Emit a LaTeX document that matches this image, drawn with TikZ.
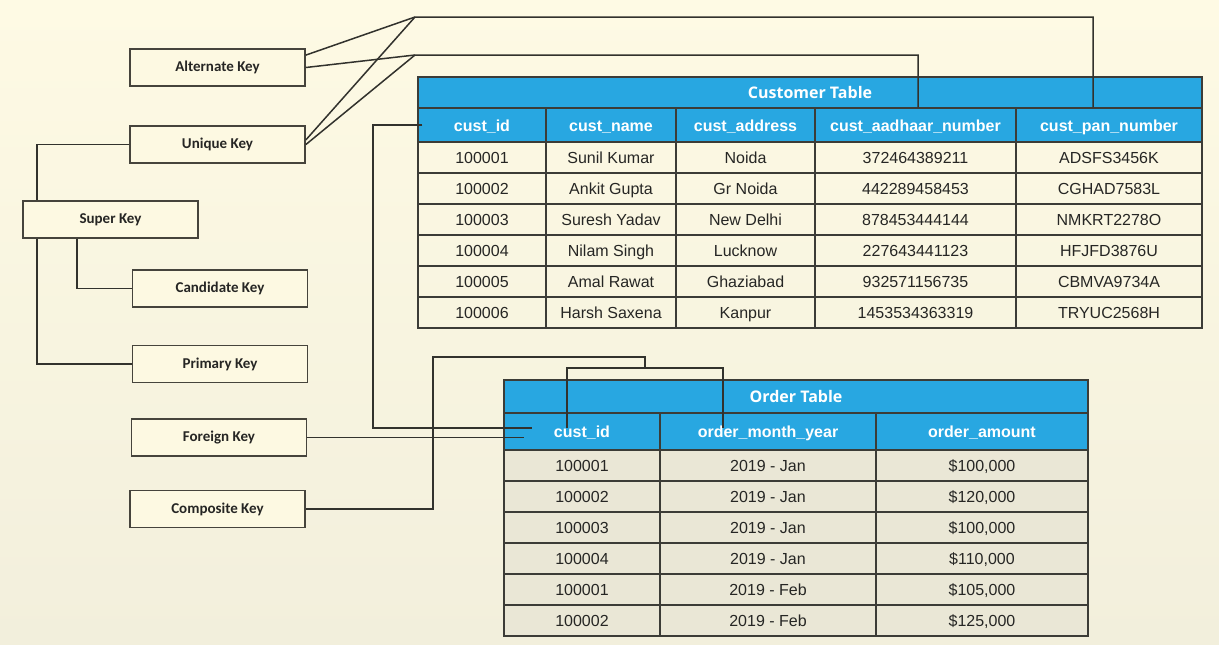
\documentclass[tikz,border=0pt]{standalone}
\usepackage{fontspec}
\setmainfont{Liberation Sans}
\newfontfamily\keyfont{Carlito}
\newfontfamily\titlefont{Open Sans}
\definecolor{paper}{RGB}{253,249,226}
\definecolor{papertop}{RGB}{254,250,228}
\definecolor{paperbot}{RGB}{242,239,220}
\definecolor{rowgrey}{RGB}{234,231,214}
\definecolor{headblue}{RGB}{40,167,225}
\definecolor{boxline}{RGB}{70,68,60}
\definecolor{gridline}{RGB}{60,60,55}
\definecolor{linegrey}{RGB}{50,50,45}
\definecolor{ink}{RGB}{38,38,36}

\begin{document}
\begin{tikzpicture}[x=1pt, y=-1pt,
    keybox/.style={draw=boxline, line width=1.8pt, fill=paper, minimum width=175pt, minimum height=37pt, inner sep=0pt, text=ink, font=\keyfont\bfseries\fontsize{15}{18}\selectfont},
    cell/.style={draw=gridline, line width=1.3pt, minimum height=31pt, inner sep=0pt, text height=13pt, text depth=1pt, text=ink, font=\fontsize{16}{19}\selectfont},
    ordercell/.style={cell, fill=rowgrey},
    headcell/.style={cell, fill=headblue, text=white, font=\bfseries\fontsize{16}{19}\selectfont},
    titlecell/.style={headcell, font=\titlefont\bfseries\fontsize{16}{19}\selectfont},
    link/.style={draw=linegrey, line width=1.5pt}]
    \useasboundingbox (0,0) rectangle (1219,645);
    \fill[top color=papertop, bottom color=paperbot] (0,0) rectangle (1219,645);

    % key boxes
    \node[keybox] (alt) at (217.5,67.5) {Alternate Key};
    \node[keybox] (uni) at (217.5,144.5) {Unique Key};
    \node[keybox] (sk) at (110.5,219.5) {Super Key};
    \node[keybox] (cand) at (220,288.5) {Candidate Key};
    \node[keybox] (prim) at (220,364) {Primary Key};
    \node[keybox] (fk) at (219,437.5) {Foreign Key};
    \node[keybox] (comp) at (217.5,509) {Composite Key};

    % customer table
    \node[titlecell, minimum width=784pt] (c-title) at (810,92.5) {Customer Table};
    \node[headcell, minimum width=128pt, minimum height=34pt] (c-id) at (482,125) {cust\_id};
    \node[headcell, minimum width=130pt, minimum height=34pt] (c-name) at (611,125) {cust\_name};
    \node[headcell, minimum width=139pt, minimum height=34pt] (c-addr) at (745.5,125) {cust\_address};
    \node[headcell, minimum width=201pt, minimum height=34pt] (c-aad) at (915.5,125) {cust\_aadhaar\_number};
    \node[headcell, minimum width=186pt, minimum height=34pt] (c-pan) at (1109,125) {cust\_pan\_number};
    \node[cell, minimum width=128pt] (c1-id) at (482,157.5) {100001};
    \node[cell, minimum width=130pt] (c1-name) at (611,157.5) {Sunil Kumar};
    \node[cell, minimum width=139pt] (c1-addr) at (745.5,157.5) {Noida};
    \node[cell, minimum width=201pt] (c1-aad) at (915.5,157.5) {372464389211};
    \node[cell, minimum width=186pt] (c1-pan) at (1109,157.5) {ADSFS3456K};
    \node[cell, minimum width=128pt] (c2-id) at (482,188.5) {100002};
    \node[cell, minimum width=130pt] (c2-name) at (611,188.5) {Ankit Gupta};
    \node[cell, minimum width=139pt] (c2-addr) at (745.5,188.5) {Gr Noida};
    \node[cell, minimum width=201pt] (c2-aad) at (915.5,188.5) {442289458453};
    \node[cell, minimum width=186pt] (c2-pan) at (1109,188.5) {CGHAD7583L};
    \node[cell, minimum width=128pt] (c3-id) at (482,219.5) {100003};
    \node[cell, minimum width=130pt] (c3-name) at (611,219.5) {Suresh Yadav};
    \node[cell, minimum width=139pt] (c3-addr) at (745.5,219.5) {New Delhi};
    \node[cell, minimum width=201pt] (c3-aad) at (915.5,219.5) {878453444144};
    \node[cell, minimum width=186pt] (c3-pan) at (1109,219.5) {NMKRT2278O};
    \node[cell, minimum width=128pt] (c4-id) at (482,250.5) {100004};
    \node[cell, minimum width=130pt] (c4-name) at (611,250.5) {Nilam Singh};
    \node[cell, minimum width=139pt] (c4-addr) at (745.5,250.5) {Lucknow};
    \node[cell, minimum width=201pt] (c4-aad) at (915.5,250.5) {227643441123};
    \node[cell, minimum width=186pt] (c4-pan) at (1109,250.5) {HFJFD3876U};
    \node[cell, minimum width=128pt] (c5-id) at (482,281.5) {100005};
    \node[cell, minimum width=130pt] (c5-name) at (611,281.5) {Amal Rawat};
    \node[cell, minimum width=139pt] (c5-addr) at (745.5,281.5) {Ghaziabad};
    \node[cell, minimum width=201pt] (c5-aad) at (915.5,281.5) {932571156735};
    \node[cell, minimum width=186pt] (c5-pan) at (1109,281.5) {CBMVA9734A};
    \node[cell, minimum width=128pt] (c6-id) at (482,312.5) {100006};
    \node[cell, minimum width=130pt] (c6-name) at (611,312.5) {Harsh Saxena};
    \node[cell, minimum width=139pt] (c6-addr) at (745.5,312.5) {Kanpur};
    \node[cell, minimum width=201pt] (c6-aad) at (915.5,312.5) {1453534363319};
    \node[cell, minimum width=186pt] (c6-pan) at (1109,312.5) {TRYUC2568H};

    % order table
    \node[titlecell, minimum width=584pt, minimum height=33pt] (o-title) at (796,396.5) {Order Table};
    \node[headcell, minimum width=156pt, minimum height=37pt] (o-id) at (582,431.5) {cust\_id};
    \node[headcell, minimum width=216pt, minimum height=37pt] (o-month) at (768,431.5) {order\_month\_year};
    \node[headcell, minimum width=212pt, minimum height=37pt] (o-amt) at (982,431.5) {order\_amount};
    \node[ordercell, minimum width=156pt] (o1-id) at (582,465.5) {100001};
    \node[ordercell, minimum width=216pt] (o1-month) at (768,465.5) {2019 - Jan};
    \node[ordercell, minimum width=212pt] (o1-amt) at (982,465.5) {\$100,000};
    \node[ordercell, minimum width=156pt] (o2-id) at (582,496.5) {100002};
    \node[ordercell, minimum width=216pt] (o2-month) at (768,496.5) {2019 - Jan};
    \node[ordercell, minimum width=212pt] (o2-amt) at (982,496.5) {\$120,000};
    \node[ordercell, minimum width=156pt] (o3-id) at (582,527.5) {100003};
    \node[ordercell, minimum width=216pt] (o3-month) at (768,527.5) {2019 - Jan};
    \node[ordercell, minimum width=212pt] (o3-amt) at (982,527.5) {\$100,000};
    \node[ordercell, minimum width=156pt] (o4-id) at (582,558.5) {100004};
    \node[ordercell, minimum width=216pt] (o4-month) at (768,558.5) {2019 - Jan};
    \node[ordercell, minimum width=212pt] (o4-amt) at (982,558.5) {\$110,000};
    \node[ordercell, minimum width=156pt] (o5-id) at (582,589.5) {100001};
    \node[ordercell, minimum width=216pt] (o5-month) at (768,589.5) {2019 - Feb};
    \node[ordercell, minimum width=212pt] (o5-amt) at (982,589.5) {\$105,000};
    \node[ordercell, minimum width=156pt] (o6-id) at (582,620.5) {100002};
    \node[ordercell, minimum width=216pt] (o6-month) at (768,620.5) {2019 - Feb};
    \node[ordercell, minimum width=212pt] (o6-amt) at (982,620.5) {\$125,000};

    % super key branches
    \coordinate (sk-trunk) at (37,250);
    \draw[link] (uni.west) -| (sk.north -| sk-trunk);
    \draw[link] (sk.south -| sk-trunk) |- (prim.west);
    \draw[link] ([xshift=-33.5pt]sk.south) |- (cand.west);

    % alternate / unique key links
    \coordinate (pan-bend) at (415,17);
    \coordinate (aad-bend) at (415,55);
    \draw[link] (alt.8) -- (pan-bend) -| ([xshift=-16pt]c-pan.north);
    \draw[link] (uni.3) -- (pan-bend);
    \draw[link] (alt.east) -- (aad-bend) -| ([xshift=2.5pt]c-aad.north);
    \draw[link] (uni.east) -- (aad-bend);

    % foreign key links
    \coordinate (id-bend) at (373,300);
    \draw[link] ([xshift=5pt]c-id.west) -| (id-bend) |- ([shift={(29pt,3.5pt)}]o-id.west);
    \draw[link] (fk.east) -- ([shift={(21pt,-6pt)}]o-id.west);

    % composite key links
    \coordinate (ck-bend) at (433,357);
    \coordinate (ck-join) at (645,368);
    \draw[link] (comp.east) -| (ck-bend) -| (ck-join);
    \draw[link] ([shift={(-15pt,3.5pt)}]o-id.center) |- (ck-join) -| ([shift={(-45pt,3.5pt)}]o-month.center);
\end{tikzpicture}
\end{document}
